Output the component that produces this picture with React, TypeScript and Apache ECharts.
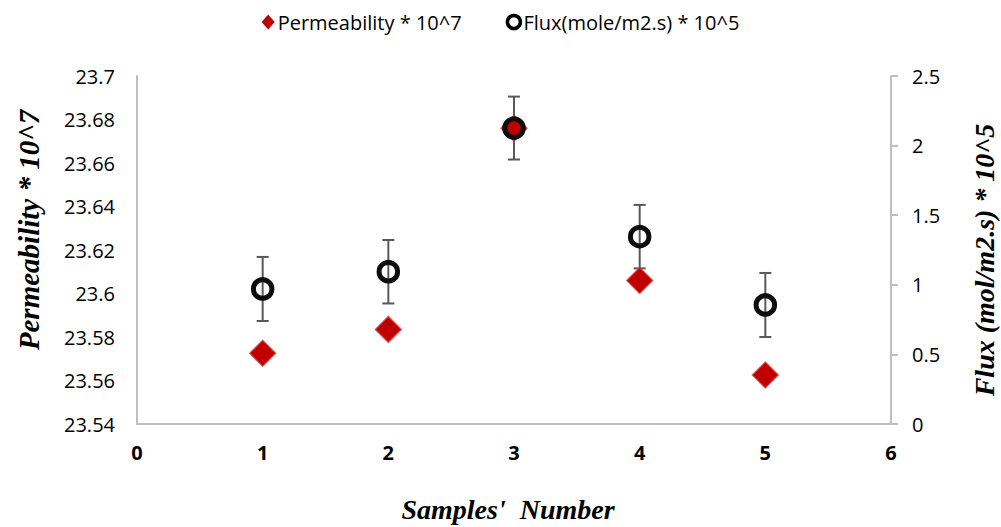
import React, { useEffect, useRef } from "react";
import * as echarts from "echarts";

const samples = [1, 2, 3, 4, 5];
const permeability = [23.5725, 23.5835, 23.676, 23.606, 23.5625];
const flux = [0.97, 1.094, 2.126, 1.346, 0.855];
const fluxError = [0.23, 0.228, 0.226, 0.228, 0.23];
const leftTicks = { min: 23.54, max: 23.7, interval: 0.02 };
const rightTicks = { min: 0, max: 2.5, interval: 0.5 };
const xTicks = { min: 0, max: 6, interval: 1 };

const permName = "Permeability * 10^7";
const fluxName = "Flux(mole/m2.s) * 10^5";

export default function App() {
  const ref = useRef<HTMLDivElement>(null);
  useEffect(() => {
    if (!ref.current) return;
    const chart = echarts.init(ref.current, undefined, { renderer: "svg" });
    const tickFont = "Open Sans";
    const axisGrey = "#bfbfbf";
    const titleBase = {
      fontFamily: "Liberation Serif",
      fontStyle: "italic",
      fontWeight: "bold",
      fill: "#000",
      align: "center",
      verticalAlign: "middle",
    };
    chart.setOption({
      animation: false,
      backgroundColor: "#fff",
      grid: { left: 137, right: 110, top: 76, bottom: 103 },
      legend: {
        top: 7,
        left: "center",
        itemGap: 44,
        itemWidth: 13,
        itemHeight: 15,
        textStyle: { fontFamily: tickFont, fontSize: 20, color: "#000", padding: [0, 0, 0, -2] },
        data: [
          { name: permName, icon: "diamond", itemStyle: { color: "#c00000", borderWidth: 0, opacity: 1 } },
          {
            name: fluxName,
            icon: "circle",
            itemStyle: { color: "#fff", borderColor: "#000", borderWidth: 3.5, opacity: 1 },
          },
        ],
      },
      xAxis: {
        type: "value",
        min: xTicks.min,
        max: xTicks.max,
        interval: xTicks.interval,
        axisLine: { show: true, lineStyle: { color: axisGrey, width: 2 } },
        axisTick: { show: false },
        splitLine: { show: false },
        axisLabel: {
          margin: 18,
          fontFamily: tickFont,
          fontWeight: "bold",
          fontSize: 20,
          color: "#000",
        },
      },
      yAxis: [
        {
          type: "value",
          min: leftTicks.min,
          max: leftTicks.max,
          interval: leftTicks.interval,
          axisLine: { show: true, lineStyle: { color: axisGrey, width: 2 } },
          axisTick: { show: false },
          splitLine: { show: false },
          axisLabel: {
            margin: 22,
            fontFamily: tickFont,
            fontSize: 20,
            color: "#000",
            formatter: (v: number) => String(Math.round(v * 100) / 100),
          },
        },
        {
          type: "value",
          position: "right",
          min: rightTicks.min,
          max: rightTicks.max,
          interval: rightTicks.interval,
          axisLine: { show: true, lineStyle: { color: axisGrey, width: 2 } },
          axisTick: { show: true, length: 7, lineStyle: { color: axisGrey, width: 2 } },
          splitLine: { show: false },
          axisLabel: {
            margin: 21,
            fontFamily: tickFont,
            fontSize: 20,
            color: "#000",
          },
        },
      ],
      graphic: [
        {
          type: "text",
          x: 29,
          y: 230,
          rotation: Math.PI / 2,
          style: { ...titleBase, fontSize: 29, text: "Permeability * 10^7" },
        },
        {
          type: "text",
          x: 984,
          y: 260,
          rotation: Math.PI / 2,
          style: { ...titleBase, fontSize: 28, text: "Flux (mol/m2.s) * 10^5" },
        },
        {
          type: "text",
          x: 508,
          y: 509,
          style: { ...titleBase, fontSize: 28, text: "Samples'  Number" },
        },
      ],
      series: [
        {
          name: permName,
          type: "scatter",
          yAxisIndex: 0,
          symbol: "diamond",
          symbolSize: 26,
          itemStyle: {
            color: "#c00000",
            borderColor: "rgba(210,60,60,0.7)",
            borderWidth: 1.5,
            opacity: 1,
          },
          data: samples.map((s, i) => [s, permeability[i]]),
        },
        {
          name: fluxName,
          type: "scatter",
          yAxisIndex: 1,
          symbol: "circle",
          symbolSize: 18.5,
          itemStyle: { color: "rgba(0,0,0,0)", borderColor: "#0d0d0d", borderWidth: 5, opacity: 1 },
          data: samples.map((s, i) => [s, flux[i]]),
        },
        {
          name: "fluxErr",
          type: "custom",
          yAxisIndex: 1,
          data: samples.map((s, i) => [s, flux[i], fluxError[i]]),
          renderItem: (params: any, api: any) => {
            const x = api.value(0);
            const y = api.value(1);
            const e = api.value(2);
            const top = api.coord([x, y + e]);
            const bot = api.coord([x, y - e]);
            const hw = 6;
            const style = { stroke: "#595959", lineWidth: 2 };
            return {
              type: "group",
              children: [
                { type: "line", shape: { x1: top[0], y1: top[1], x2: bot[0], y2: bot[1] }, style },
                { type: "line", shape: { x1: top[0] - hw, y1: top[1], x2: top[0] + hw, y2: top[1] }, style },
                { type: "line", shape: { x1: bot[0] - hw, y1: bot[1], x2: bot[0] + hw, y2: bot[1] }, style },
              ],
            };
          },
        },
      ],
    });
    return () => chart.dispose();
  }, []);
  return (
    <div
      ref={ref}
      style={{ position: "absolute", left: 0, top: 0, width: 1001, height: 527 }}
    />
  );
}
